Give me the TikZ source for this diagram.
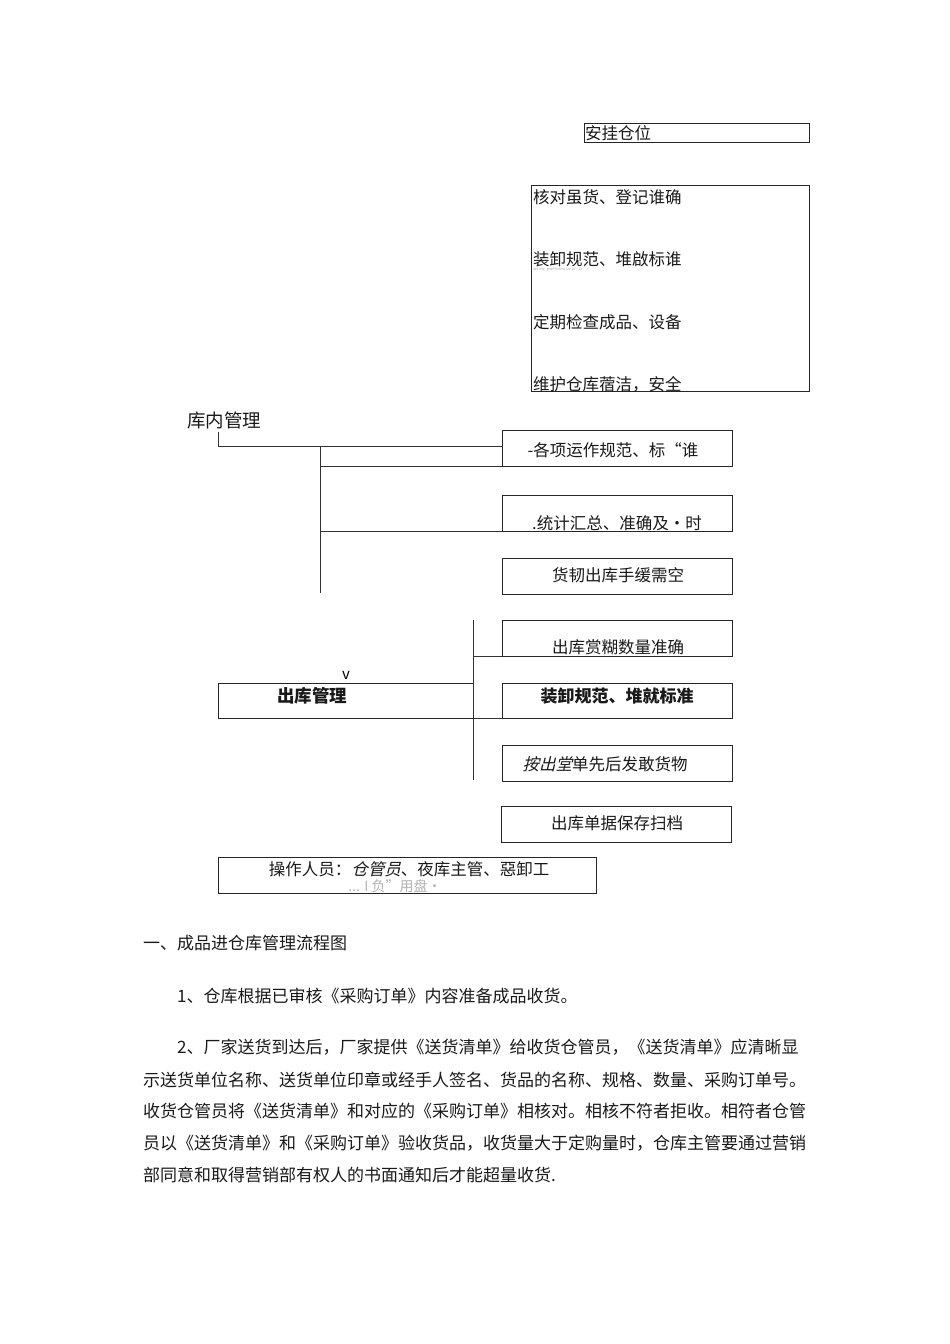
\documentclass[tikz,border=0pt]{standalone}
\usepackage{fontspec}
\setmainfont{Noto Sans CJK SC}
\newfontfamily\slantcjk[FakeSlant=0.25]{Noto Sans CJK SC}
\newcommand\myfs[1]{\fontsize{#1}{#1}\selectfont}
\begin{document}
\begin{tikzpicture}[x=1pt,y=-1pt,
  box/.style={draw=black!85, line width=0.9pt, inner sep=0pt, minimum width=230pt, minimum height=36pt},
  txt/.style={inner sep=0pt, text=black!90, font=\myfs{16.5}},
  para/.style={inner sep=0pt, anchor=west, text=black!90, font=\myfs{17}},
  ln/.style={draw=black!80, line width=0.9pt}]
\useasboundingbox (0,0) rectangle (950,1344);
% top boxes
\node[box, minimum width=225pt, minimum height=19pt, anchor=north west] (anpai) at (584,123) {};
\node[txt, anchor=west] (anpait) at (585,133) {安挂仓位};
\node[box, minimum width=278pt, minimum height=206pt, anchor=north west] (big) at (531,185) {};
\node[txt, anchor=west] (b1) at (533,197) {核对虽货、登记谁确};
\node[txt, anchor=west] (b2) at (533,259) {装卸规范、堆啟标谁};
\node[inner sep=0pt, anchor=west, text=black!35, font=\myfs{4}] (b2n) at (533,269) {ws-rw\_pwe\%eeu.ur:ai'1r'r};
\node[txt, anchor=west] (b3) at (533,322) {定期检查成品、设备};
\node[txt, anchor=west] (b4) at (533,384) {维护仓库蓿洁，安全};
% kunei
\node[txt, font=\myfs{18.5}, anchor=west] (kn) at (187,420) {库内管理};
\node[box, anchor=north west] (bA) at (502,430) {};
\node[txt] at (613,450) {-各项运作规范、标“谁};
\node[box, anchor=north west] (bB) at (502,495) {};
\node[txt] at (617,523) {.统计汇总、准确及•时};
\node[box, anchor=north west] (bC) at (502,558) {};
\node[txt] at (618,575) {货韧出库手缓需空};
\coordinate (k1) at (218,432);
\coordinate (k2) at (218,446);
\coordinate (s1t) at (320,446);
\coordinate (s1b) at (320,593);
\draw[ln] (k1) -- (k2) -- (k2 -| bA.west);
\draw[ln] (s1t) -- (s1b);
\draw[ln] (s1t |- bA.south west) -- (bA.south west);
\draw[ln] (s1t |- bB.south west) -- (bB.south west);
% chuku
\node[box, anchor=north west] (bD) at (502,620) {};
\node[txt] at (618,647) {出库赏糊数量准确};
\node[box, minimum width=255pt, minimum height=35pt, anchor=north west] (ck) at (218,683) {};
\node[txt, font=\myfs{17.5}\bfseries] (ckt) at (312,696) {出库管理};
\node[inner sep=0pt, font=\myfs{15}] (vv) at (346,675) {v};
\node[box, minimum height=35pt, anchor=north west] (bE) at (502,683) {};
\node[txt, font=\myfs{17}\bfseries] at (617,696) {装卸规范、堆就标准};
\node[box, anchor=north west] (bF) at (502,745) {};
\node[txt] at (605,764) {{\slantcjk 按出堂}单先后发敢货物};
\node[box, anchor=north west] (bG) at (501,806) {};
\node[txt] at (617,823) {出库单据保存扫档};
\coordinate (s2t) at (473,620);
\coordinate (s2b) at (473,780);
\draw[ln] (s2t) -- (s2b);
\draw[ln] (s2t |- bD.south west) -- (bD.south west);
\draw[ln] (ck.south east) -- (bE.south west);
% operators
\node[box, minimum width=378pt, anchor=north west] (op) at (218,857) {};
\node[txt] at (409,869) {操作人员：{\slantcjk 仓管员}、夜库主管、惡卸工};
\node[inner sep=0pt, text=black!30, font=\myfs{14}] (opn) at (395,886) {... I 负”用盘•};
% text
\node[para] (h1) at (143,943) {一、成品进仓库管理流程图};
\node[para] (p1) at (177,996) {1、仓库根据已审核《采购订单》内容准备成品收货。};
\node[para] (p2a) at (177,1047) {2、厂家送货到达后，厂家提供《送货清单》给收货仓管员，《送货清单》应清晰显};
\node[para] (p2b) at (143,1080) {示送货单位名称、送货单位印章或经手人签名、货品的名称、规格、数量、采购订单号。};
\node[para] (p2c) at (143,1111) {收货仓管员将《送货清单》和对应的《采购订单》相核对。相核不符者拒收。相符者仓管};
\node[para] (p2d) at (143,1143) {员以《送货清单》和《采购订单》验收货品，收货量大于定购量时，仓库主管要通过营销};
\node[para] (p2e) at (143,1175) {部同意和取得营销部有权人的书面通知后才能超量收货.};
\end{tikzpicture}
\end{document}
